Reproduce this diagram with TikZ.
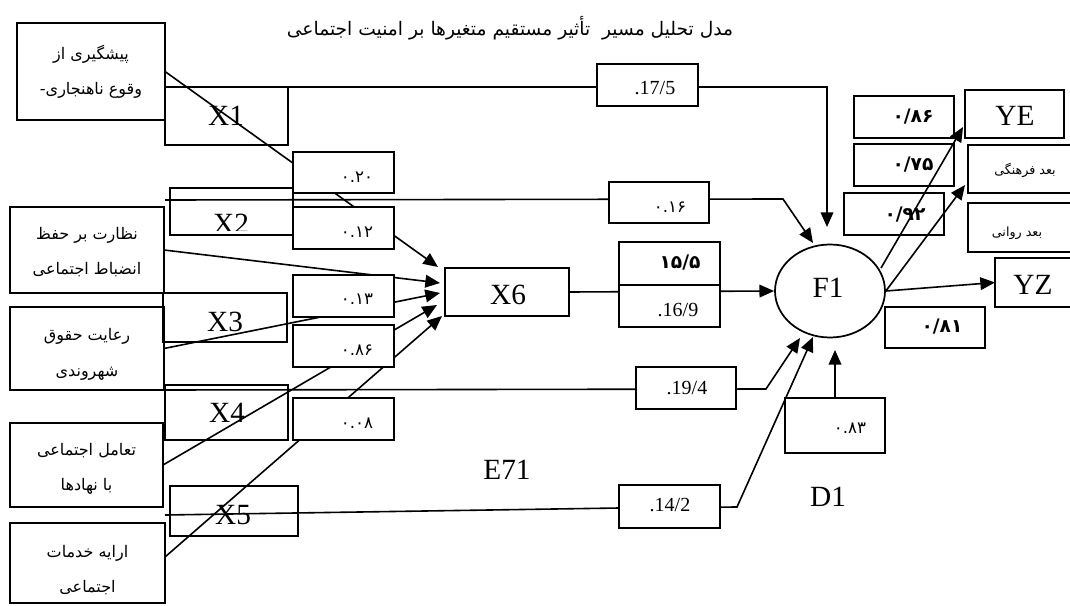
\documentclass[tikz,border=0pt]{standalone}
\usepackage{fontspec}
\setmainfont{Liberation Serif}
\newfontfamily\arabicfont[Script=Arabic]{DejaVu Sans}
\TeXXeTstate=1
\usetikzlibrary{arrows.meta,shapes.geometric,calc,backgrounds}
\begin{document}
\begin{tikzpicture}[x=0.75pt,y=-0.75pt,
  box/.style={draw,line width=1.3pt,rectangle,inner sep=0pt,outer sep=0pt,fill=white},
  obox/.style={draw,line width=1.3pt,rectangle,inner sep=0pt,outer sep=0pt},
  sz/.style 2 args={minimum width=#1*0.75pt,minimum height=#2*0.75pt},
  lat/.style={inner sep=0pt,font=\fontsize{22pt}{25pt}\selectfont},
  val/.style={inner sep=0pt,font=\fontsize{15pt}{18pt}\selectfont},
  fav/.style={inner sep=0pt,font=\arabicfont\bfseries\fontsize{14pt}{16pt}\selectfont},
  fas/.style={inner sep=0pt,font=\arabicfont\fontsize{12.5pt}{14pt}\selectfont},
  fal/.style={inner sep=0pt,align=center,font=\arabicfont\fontsize{12pt}{26.5pt}\selectfont},
  fasm/.style={inner sep=0pt,font=\arabicfont\fontsize{9.5pt}{11pt}\selectfont},
  conn/.style={line width=1.2pt},
  arr/.style={conn,-{Triangle[length=11pt,width=9.5pt]}}
]
\useasboundingbox (0,0) rectangle (1070,606);

% title
\node[inner sep=0pt,font=\arabicfont\fontsize{14pt}{16pt}\selectfont] (title) at (510,28)
  {\beginR مدل تحلیل مسیر\ \ تأثیر مستقیم متغیرها بر امنیت اجتماعی\endR};

% left Persian boxes
\node[box,sz={148}{97}] (A) at (91,71.5) {};
\node[fal] (tA) at (91,71.5) {\beginR پیشگیری از\endR\\\beginR وقوع ناهنجاری-\endR};
\node[box,sz={154}{86}] (B) at (87,250) {};
\node[fal] (tB) at (87,252) {\beginR نظارت بر حفظ\endR\\\beginR انضباط اجتماعی\endR};
\node[box,sz={154}{83}] (C) at (87,348.5) {};
\node[fal] (tC) at (87,354.5) {\beginR رعایت حقوق\endR\\\beginR شهروندی\endR};
\node[box,sz={153}{84}] (D) at (86.5,465) {};
\node[fal] (tD) at (86.5,469) {\beginR تعامل اجتماعی\endR\\\beginR با نهادها\endR};
\node[box,sz={155}{80}] (E) at (87.5,563) {};
\node[fal] (tE) at (87.5,570) {\beginR ارایه خدمات\endR\\\beginR اجتماعی\endR};

% X boxes (transparent)
\node[obox,sz={123}{58}] (X1) at (226.5,116) {};
\node[lat] (tX1) at (226,116) {X1};
\node[obox,sz={123}{47}] (X2) at (231.5,211.5) {};
\begin{scope}
  \clip (X2.north west) rectangle ($(X2.south east)+(0,-5)$);
  \node[lat,anchor=base] (tX2) at (231,233) {X2};
\end{scope}
\node[obox,sz={124}{49}] (X3) at (225,317.5) {};
\node[lat] (tX3) at (225,322) {X3};
\node[obox,sz={123}{55}] (X4) at (226.5,412.5) {};
\node[lat] (tX4) at (227,413) {X4};
\node[obox,sz={128}{50}] (X5) at (234,511) {};
\node[lat] (tX5) at (233,515) {X5};

% left value boxes
\node[box,sz={101}{41}] (v20) at (343.5,172.5) {};
\node[fas] (t20) at (357,177) {۰.۲۰};
\node[box,sz={101}{42}] (v12) at (343.5,228) {};
\node[fas] (t12) at (357,232) {۰.۱۲};
\node[box,sz={101}{42}] (v13) at (343.5,296) {};
\node[fas] (t13) at (357,299) {۰.۱۳};
\node[box,sz={101}{42}] (v86) at (343.5,346) {};
\node[fas] (t86) at (357,350) {۰.۸۶};
\node[box,sz={101}{42}] (v08) at (343.5,419) {};
\node[fas] (t08) at (357,423) {۰.۰۸};

% X6
\node[box,sz={124}{48}] (X6) at (507,292) {};
\node[lat] (tX6) at (508,295) {X6};

% middle value boxes
\node[box,sz={101}{42}] (v175) at (647.5,85) {};
\node[val] (t175) at (655,88) {.17/5};
\node[box,sz={100}{41}] (v16) at (659,202.5) {};
\node[fas] (t16) at (670,207) {۰.۱۶};
\node[box,sz={101}{43}] (v155) at (669.5,263.5) {};
\node[fav] (t155) at (680,263) {۱۵/۵};
\node[box,sz={101}{42}] (v169) at (669.5,306) {};
\node[val] (t169) at (678,310) {.16/9};
\node[box,sz={100}{42}] (v194) at (686,388) {};
\node[val] (t194) at (687,388) {.19/4};
\node[box,sz={101}{43}] (v142) at (669.5,506.5) {};
\node[val] (t142) at (670,505) {.14/2};

% F1 and disturbance
\node[draw,ellipse,line width=1.3pt,fill=white,inner sep=0pt,sz={110}{93}] (F1) at (830,291) {};
\node[lat] (tF1) at (828,288) {F1};
\node[box,sz={100}{55}] (v83) at (835,425.5) {};
\node[fas] (t83) at (850,428) {۰.۸۳};
\node[lat] (D1) at (828,497) {D1};
\node[lat] (E71) at (507,470) {E71};

% right side
\node[box,sz={100}{42}] (r86) at (904,117) {};
\node[fav] (tr86) at (913,117) {۰/۸۶};
\node[box,sz={99}{48}] (YE) at (1014.5,114) {};
\node[lat] (tYE) at (1015,116) {YE};
\node[box,sz={100}{42}] (r75) at (904,165) {};
\node[fav] (tr75) at (913,165) {۰/۷۵};
\node[box,sz={106}{48}] (Yf) at (1021,169) {};
\node[fasm] (tYf) at (1025,170) {\beginR بعد فرهنگی\endR};
\node[box,sz={100}{42}] (r92) at (894,214) {};
\node[fav] (tr92) at (905,215) {۰/۹۲};
\node[box,sz={107}{49}] (Yr) at (1021.5,227.5) {};
\node[fasm] (tYr) at (1017,233) {\beginR بعد روانی\endR};
\node[box,sz={80}{49}] (YZ) at (1035,282.5) {};
\node[lat] (tYZ) at (1033,285) {YZ};
\node[box,sz={100}{41}] (r81) at (935,327.5) {};
\node[fav] (tr81) at (942,327) {۰/۸۱};

% coordinates for bends and free ends
\coordinate (k1) at (827,87);
\coordinate (e1) at (827,227);
\coordinate (s2) at (165,200);
\coordinate (k2) at (783,199);
\coordinate (e2) at (813,243);
\coordinate (sE) at (165,557);
\coordinate (k9) at (766,389);
\coordinate (e9) at (800,338);
\coordinate (s10) at (165,515);
\coordinate (k10a) at (619,508);
\coordinate (k10b) at (737,507);
\coordinate (e10) at (813,337);
\coordinate (e11) at (835,350);
\coordinate (sYE) at (881,268);
\coordinate (eYE) at (963,127);
\coordinate (eYf) at (965,185);

\begin{scope}[on background layer]
  \draw[arr] (X1.north west) -- (k1) -- (e1);
  \draw[arr] (s2) -- (k2) -- (e2);
  \draw[arr] (A.east) -- ($(X6.west)+(-7,-25)$);
  \draw[arr] (B.east) -- ($(X6.west)+(-5,-9)$);
  \draw[arr] (C.east) -- ($(X6.west)+(-5,1)$);
  \draw[arr] (D.east) -- ($(X6.west)+(-8,13)$);
  \draw[arr] (sE) -- ($(X6.west)+(-3,24)$);
  \draw[arr] (X6.east) -- (F1.west);
  \draw[arr] (C.south east) -- (k9) -- (e9);
  \draw[arr] (s10) -- (k10a) -- (k10b) -- (e10);
\end{scope}
\draw[arr] (v83.north) -- (e11);
\draw[arr] (sYE) -- (eYE);
\draw[arr] (F1.east) -- (eYf);
\draw[arr] (F1.east) -- (YZ.west);
\end{tikzpicture}
\end{document}
